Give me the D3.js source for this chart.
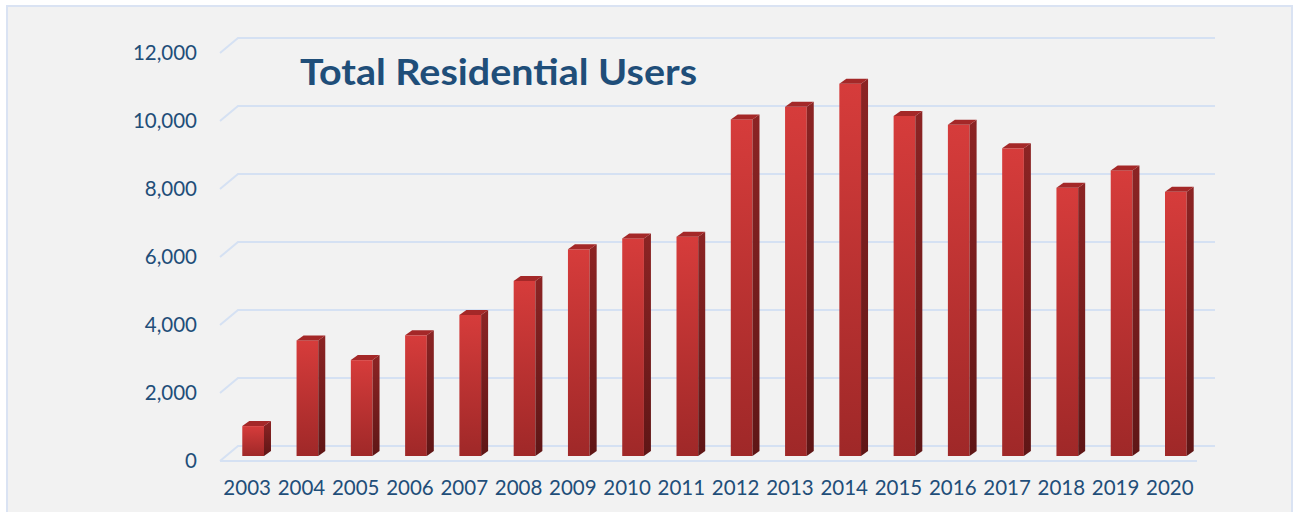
<!DOCTYPE html>
<html>
<head>
<meta charset="utf-8">
<script src="https://cdn.jsdelivr.net/npm/d3@7"></script>
<style>
  html, body { margin: 0; padding: 0; background: #ffffff; }
  #chart { width: 1294px; height: 512px; }
</style>
</head>
<body>
<div id="chart"></div>
<script>
// chart data
const years = ["2003", "2004", "2005", "2006", "2007", "2008", "2009", "2010", "2011",
  "2012", "2013", "2014", "2015", "2016", "2017", "2018", "2019", "2020"];
const users = [880, 3400, 2820, 3550, 4150, 5150, 6080, 6400, 6450,
  9900, 10270, 10950, 10000, 9740, 9050, 7890, 8400, 7770];
const yTicks = [0, 2000, 4000, 6000, 8000, 10000, 12000];
const title = "Total Residential Users";

const width = 1294, height = 512;
const depthX = 18, depthY = 15;      // floor depth of the 3d box
const barDx = 7, barDy = 5;          // depth of each column

const svg = d3.select("#chart")
  .append("svg")
  .attr("width", width)
  .attr("height", height)
  .attr("viewBox", [0, 0, width, height])
  .style("font-family", "Lato, 'Open Sans', sans-serif");

// panel
svg.append("rect")
  .attr("x", 7).attr("y", 6)
  .attr("width", 1285).attr("height", 520)
  .attr("fill", "#f2f2f2")
  .attr("stroke", "#dae3f3")
  .attr("stroke-width", 2);

const defs = svg.append("defs");
const front = defs.append("linearGradient")
  .attr("id", "front").attr("x1", 0).attr("y1", 0).attr("x2", 0).attr("y2", 1);
front.append("stop").attr("offset", "0%").attr("stop-color", "#d63c3b");
front.append("stop").attr("offset", "100%").attr("stop-color", "#9f2828");
const side = defs.append("linearGradient")
  .attr("id", "side").attr("x1", 0).attr("y1", 0).attr("x2", 0).attr("y2", 1);
side.append("stop").attr("offset", "0%").attr("stop-color", "#8c2424");
side.append("stop").attr("offset", "100%").attr("stop-color", "#5f1616");

let xScale = d3.scaleBand()
  .domain(years)
  .range([220, 1197])
  .paddingInner(0.6)
  .paddingOuter(0.3);

let yScale = d3.scaleLinear()
  .domain([0, 12000])
  .range([456, 48]);

// gridlines (front edge slanting back to the wall)
const grid = svg.append("g");
grid.selectAll("path.grid")
  .data(yTicks)
  .enter()
  .append("path")
  .attr("class", "grid")
  .attr("d", d => {
    let y = yScale(d);
    return `M220,${y + 5}L${220 + depthX},${y + 5 - depthY}L${1197 + depthX},${y + 5 - depthY}`;
  })
  .attr("fill", "none")
  .attr("stroke", "#d5e1f3")
  .attr("stroke-width", 2);

grid.append("path")
  .attr("d", `M220,${yScale(0) + 5}L1197,${yScale(0) + 5}`)
  .attr("stroke", "#d5e1f3")
  .attr("stroke-width", 2);

// y axis labels
svg.append("g")
  .attr("transform", "translate(205,5)")
  .call(d3.axisLeft(yScale).tickValues(yTicks).tickSize(0).tickPadding(8)
    .tickFormat(d3.format(",")))
  .call(g => g.select(".domain").remove())
  .selectAll("text")
  .attr("font-size", "20.5px")
  .attr("font-family", "Lato, 'Open Sans', sans-serif")
  .attr("fill", "#1f4e79");

// x axis labels
svg.append("g")
  .attr("transform", `translate(0,${yScale(0) + 18})`)
  .call(d3.axisBottom(xScale).tickSize(0).tickPadding(6))
  .call(g => g.select(".domain").remove())
  .selectAll("text")
  .attr("font-size", "20.5px")
  .attr("font-family", "Lato, 'Open Sans', sans-serif")
  .attr("fill", "#1f4e79");

// columns
const bw = xScale.bandwidth();
const bars = svg.selectAll(".bar")
  .data(years.map((y, i) => ({ year: y, value: users[i] })))
  .enter()
  .append("g")
  .attr("class", "bar");

const bx = d => xScale(d.year) + 6;

bars.append("rect")
  .attr("x", bx)
  .attr("y", d => yScale(d.value))
  .attr("width", bw)
  .attr("height", d => yScale(0) - yScale(d.value))
  .attr("fill", "url(#front)");

bars.append("path")
  .attr("d", d => {
    let x = bx(d) + bw, y = yScale(d.value), b = yScale(0);
    return `M${x},${y}L${x + barDx},${y - barDy}L${x + barDx},${b - barDy}L${x},${b}Z`;
  })
  .attr("fill", "url(#side)");

bars.append("path")
  .attr("d", d => {
    let x = bx(d), y = yScale(d.value);
    return `M${x},${y}L${x + barDx},${y - barDy}L${x + bw + barDx},${y - barDy}L${x + bw},${y}Z`;
  })
  .attr("fill", "#a42828");

// title
svg.append("text")
  .attr("x", 300)
  .attr("y", 85)
  .attr("font-size", "37px")
  .attr("font-weight", "bold")
  .attr("fill", "#1f4e79")
  .attr("textLength", 397)
  .attr("lengthAdjust", "spacingAndGlyphs")
  .text(title);
</script>
</body>
</html>
